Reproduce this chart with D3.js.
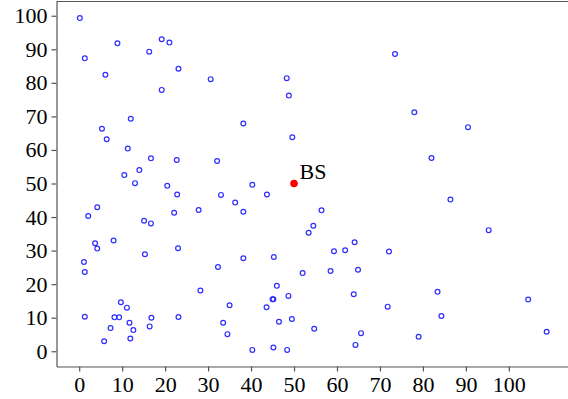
<!DOCTYPE html>
<html>
<head>
<meta charset="utf-8">
<script src="https://cdn.jsdelivr.net/npm/d3@7"></script>
<style>
  body { margin: 0; background: #fff; }
  svg { display: block; }
  svg text { font-family: 'Liberation Serif', 'Times New Roman', Times, serif; font-size: 22px; }
  .axis path, .axis line { stroke: #555; stroke-width: 1.2; }
</style>
</head>
<body>
<div id="chart"></div>
<script>
// user positions
const userX = [0.15, 1.3, 8.9, 6.1, 16.3, 19.2, 21.0, 23.1, 19.2, 12.0,
  5.3, 6.4, 11.3, 16.7, 22.7, 10.5, 14.0, 13.0, 20.5, 22.8,
  30.6, 48.3, 48.8, 38.2, 49.6, 32.1, 40.3, 33.0, 43.7, 36.3,
  73.5, 78.0, 90.5, 82.0, 86.4,
  2.1, 4.2, 15.1, 16.7, 22.1, 27.8, 8.0, 3.7, 4.2, 15.3,
  23.0, 1.1, 1.3, 28.2, 9.7, 11.1, 1.3, 8.2, 9.3, 16.8,
  23.1, 11.7, 16.4, 7.3, 12.6, 11.9, 5.8,
  38.2, 56.4, 54.5, 53.4, 64.1, 59.3, 61.9, 38.2, 45.3, 32.3,
  52.0, 58.5, 64.9, 46.0, 48.7, 45.0, 45.2, 63.9, 35.0, 43.6,
  33.5, 46.5, 49.5, 34.5, 54.7, 65.6, 64.3, 40.3, 45.2, 48.4,
  95.3, 72.1, 83.4, 71.8, 104.5, 84.3, 79.0, 108.8];
const userY = [99.3, 87.3, 91.8, 82.4, 89.3, 93.0, 92.0, 84.2, 77.9, 69.3,
  66.3, 63.2, 60.4, 57.5, 57.0, 52.5, 54.0, 50.1, 49.3, 46.7,
  81.1, 81.4, 76.2, 67.9, 63.8, 56.7, 49.6, 46.6, 46.7, 44.3,
  88.6, 71.2, 66.8, 57.6, 45.2,
  40.3, 42.9, 38.9, 38.1, 41.3, 42.1, 33.0, 32.2, 30.6, 28.9,
  30.7, 26.6, 23.6, 18.1, 14.6, 13.0, 10.3, 10.1, 10.1, 10.0,
  10.2, 8.5, 7.4, 6.9, 6.3, 3.8, 3.0,
  41.6, 42.0, 37.4, 35.3, 32.5, 29.8, 30.1, 27.7, 28.1, 25.1,
  23.3, 23.9, 24.3, 19.5, 16.5, 15.5, 15.5, 17.0, 13.7, 13.1,
  8.5, 8.8, 9.6, 5.1, 6.7, 5.4, 1.9, 0.4, 1.1, 0.4,
  36.1, 29.7, 17.7, 13.3, 15.4, 10.5, 4.3, 5.8];
const bsPoint = [50, 50];
const bsLabel = "BS";
const xTicks = [0, 10, 20, 30, 40, 50, 60, 70, 80, 90, 100];
const yTicks = [0, 10, 20, 30, 40, 50, 60, 70, 80, 90, 100];

const width = 568, height = 399;
const plot = { left: 56.5, right: 570, top: 1.5, bottom: 366.5 };
const fontName = 'Liberation Serif';

const points = userX.map((x, i) => ({ x: x, y: userY[i] }));

// 5% padding round the data, like the original plot
function padded(vals) {
  const ext = d3.extent(vals);
  const pad = (ext[1] - ext[0]) * 0.05;
  return [ext[0] - pad, ext[1] + pad];
}

const x = d3.scaleLinear()
  .domain(padded(userX.concat([bsPoint[0]])))
  .range([plot.left, plot.right]);
const y = d3.scaleLinear()
  .domain(padded(userY.concat([bsPoint[1]])))
  .range([plot.bottom, plot.top]);

const svg = d3.select('#chart').append('svg')
  .attr('width', width)
  .attr('height', height)
  .attr('font-family', fontName)
  .attr('font-size', 22);

// top spine
svg.append('line')
  .attr('x1', plot.left).attr('x2', plot.right)
  .attr('y1', plot.top).attr('y2', plot.top)
  .attr('stroke', '#555').attr('stroke-width', 1.2);

const xAxis = svg.append('g')
  .attr('class', 'axis')
  .attr('transform', 'translate(0,' + plot.bottom + ')')
  .call(d3.axisBottom(x).tickValues(xTicks).tickSize(5).tickPadding(5).tickSizeOuter(0));

const yAxis = svg.append('g')
  .attr('class', 'axis')
  .attr('transform', 'translate(' + plot.left + ',0)')
  .call(d3.axisLeft(y).tickValues(yTicks).tickSize(5).tickPadding(4).tickSizeOuter(0));

[xAxis, yAxis].forEach(g => {
  g.attr('font-family', fontName).attr('font-size', 22);
  g.selectAll('text').attr('fill', '#000');
});

svg.append('g')
  .selectAll('circle')
  .data(points)
  .enter().append('circle')
  .attr('cx', d => x(d.x))
  .attr('cy', d => y(d.y))
  .attr('r', 2.4)
  .attr('fill', 'none')
  .attr('stroke', '#2e2eff')
  .attr('stroke-width', 1.2);

svg.append('circle')
  .attr('cx', x(bsPoint[0]))
  .attr('cy', y(bsPoint[1]))
  .attr('r', 3.8)
  .attr('fill', '#ff0000');

svg.append('text')
  .attr('x', x(bsPoint[0]) + 5.5)
  .attr('y', y(bsPoint[1]) - 4.5)
  .text(bsLabel);
</script>
</body>
</html>
